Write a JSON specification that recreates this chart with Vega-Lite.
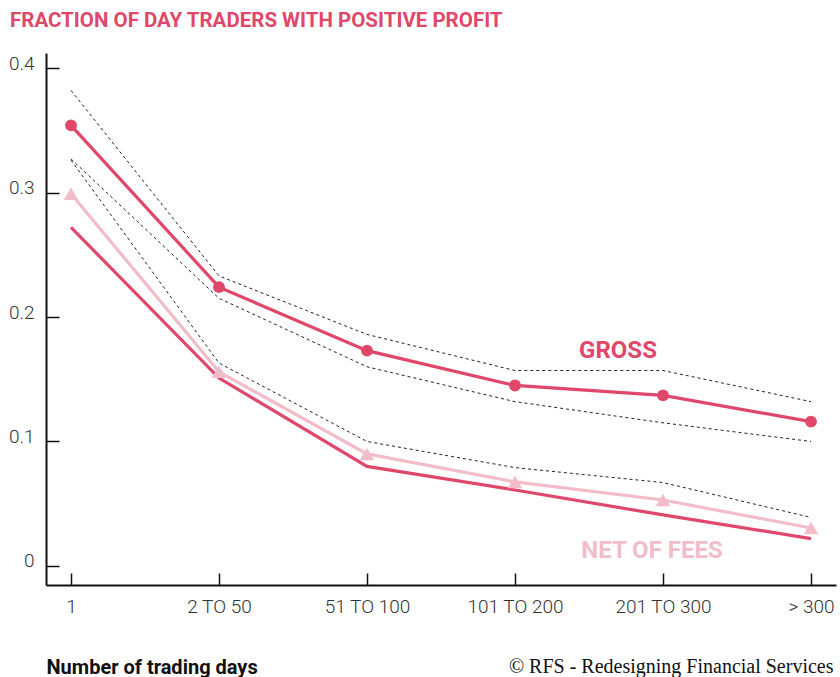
{
  "$schema": "https://vega.github.io/schema/vega-lite/v6.json",
  "width": 790,
  "height": 532,
  "autosize": {"type": "none"},
  "padding": {"left": 46, "top": 53, "right": 4, "bottom": 92},
  "background": "white",
  "title": {
    "text": "FRACTION OF DAY TRADERS WITH POSITIVE PROFIT",
    "anchor": "start",
    "frame": "group",
    "dx": -36,
    "offset": 6,
    "baseline": "alphabetic",
    "font": "Roboto",
    "fontSize": 20.5,
    "fontWeight": "bold",
    "color": "#e0476a"
  },
  "config": {"view": {"stroke": null}, "axis": {"grid": false}},
  "datasets": {
    "main": [
      {"days": "1", "series": "Gross", "value": 0.354},
      {"days": "2 TO 50", "series": "Gross", "value": 0.224},
      {"days": "51 TO 100", "series": "Gross", "value": 0.173},
      {"days": "101 TO 200", "series": "Gross", "value": 0.145},
      {"days": "201 TO 300", "series": "Gross", "value": 0.137},
      {"days": "> 300", "series": "Gross", "value": 0.116},
      {"days": "1", "series": "Gross upper", "value": 0.382},
      {"days": "2 TO 50", "series": "Gross upper", "value": 0.233},
      {"days": "51 TO 100", "series": "Gross upper", "value": 0.186},
      {"days": "101 TO 200", "series": "Gross upper", "value": 0.157},
      {"days": "201 TO 300", "series": "Gross upper", "value": 0.157},
      {"days": "> 300", "series": "Gross upper", "value": 0.132},
      {"days": "1", "series": "Gross lower", "value": 0.327},
      {"days": "2 TO 50", "series": "Gross lower", "value": 0.215},
      {"days": "51 TO 100", "series": "Gross lower", "value": 0.160},
      {"days": "101 TO 200", "series": "Gross lower", "value": 0.132},
      {"days": "201 TO 300", "series": "Gross lower", "value": 0.115},
      {"days": "> 300", "series": "Gross lower", "value": 0.100},
      {"days": "1", "series": "Net", "value": 0.299},
      {"days": "2 TO 50", "series": "Net", "value": 0.156},
      {"days": "51 TO 100", "series": "Net", "value": 0.090},
      {"days": "101 TO 200", "series": "Net", "value": 0.0675},
      {"days": "201 TO 300", "series": "Net", "value": 0.053},
      {"days": "> 300", "series": "Net", "value": 0.0305},
      {"days": "1", "series": "Net upper", "value": 0.326},
      {"days": "2 TO 50", "series": "Net upper", "value": 0.163},
      {"days": "51 TO 100", "series": "Net upper", "value": 0.100},
      {"days": "101 TO 200", "series": "Net upper", "value": 0.079},
      {"days": "201 TO 300", "series": "Net upper", "value": 0.067},
      {"days": "> 300", "series": "Net upper", "value": 0.039},
      {"days": "1", "series": "Net lower", "value": 0.272},
      {"days": "2 TO 50", "series": "Net lower", "value": 0.151},
      {"days": "51 TO 100", "series": "Net lower", "value": 0.080},
      {"days": "101 TO 200", "series": "Net lower", "value": 0.061},
      {"days": "201 TO 300", "series": "Net lower", "value": 0.041},
      {"days": "> 300", "series": "Net lower", "value": 0.022}
    ],
    "labels": [
      {"label": "GROSS", "days": "101 TO 200", "value": 0.167},
      {"label": "NET OF FEES", "days": "201 TO 300", "value": 0.0064}
    ]
  },
  "encoding": {
    "x": {
      "field": "days",
      "type": "ordinal",
      "sort": ["1", "2 TO 50", "51 TO 100", "101 TO 200", "201 TO 300", "> 300"],
      "scale": {"type": "point", "padding": 0.169},
      "axis": {
        "title": "Number of trading days",
        "titleX": 0,
        "titleY": 88,
        "titleAlign": "left",
        "titleAnchor": null,
        "titleBaseline": "alphabetic",
        "titleFont": "Roboto",
        "titleFontSize": 20,
        "titleFontWeight": "bold",
        "titleColor": "#111111",
        "labelAngle": 0,
        "labelFont": "Roboto",
        "labelFontWeight": 300,
        "labelFontSize": 19,
        "labelColor": "#333333",
        "labelPadding": 24,
        "tickSize": -12,
        "tickColor": "#111111",
        "tickWidth": 1.5,
        "domainColor": "#111111",
        "domainWidth": 2
      }
    },
    "y": {
      "field": "value",
      "type": "quantitative",
      "scale": {"domain": [-0.0153, 0.4121], "nice": false, "zero": false},
      "axis": {
        "values": [0, 0.1, 0.2, 0.3, 0.4],
        "format": ".1~f",
        "title": "© RFS - Redesigning Financial Services",
        "titleAngle": 0,
        "titleX": 787,
        "titleY": 619,
        "titleAlign": "right",
        "titleAnchor": null,
        "titleBaseline": "alphabetic",
        "titleFont": "Liberation Serif",
        "titleFontSize": 20,
        "titleFontWeight": "normal",
        "titleColor": "#111111",
        "labelFont": "Roboto",
        "labelFontWeight": 300,
        "labelFontSize": 19,
        "labelColor": "#333333",
        "labelPadding": 25,
        "labelOffset": -5,
        "tickSize": -13,
        "tickColor": "#111111",
        "tickWidth": 1.5,
        "domainColor": "#111111",
        "domainWidth": 2
      }
    }
  },
  "layer": [
    {
      "data": {"name": "main"},
      "transform": [{"filter": {"field": "series", "oneOf": ["Gross upper", "Gross lower", "Net upper"]}}],
      "mark": {"type": "line", "color": "#222222", "strokeWidth": 1, "strokeDash": [3, 3]},
      "encoding": {"detail": {"field": "series"}}
    },
    {
      "data": {"name": "main"},
      "transform": [{"filter": {"field": "series", "equal": "Net lower"}}],
      "mark": {"type": "line", "color": "#e0476a", "strokeWidth": 3.2}
    },
    {
      "data": {"name": "main"},
      "transform": [{"filter": {"field": "series", "equal": "Net"}}],
      "mark": {
        "type": "line",
        "color": "#f2bcc8",
        "strokeWidth": 3.2,
        "point": {"filled": true, "shape": "triangle-up", "size": 210, "color": "#f2bcc8", "opacity": 1}
      }
    },
    {
      "data": {"name": "main"},
      "transform": [{"filter": {"field": "series", "equal": "Gross"}}],
      "mark": {
        "type": "line",
        "color": "#e0476a",
        "strokeWidth": 3.2,
        "point": {"filled": true, "shape": "circle", "size": 140, "color": "#e0476a", "opacity": 1}
      }
    },
    {
      "data": {"name": "labels"},
      "transform": [{"filter": {"field": "label", "equal": "GROSS"}}],
      "mark": {"type": "text", "dx": 103, "align": "center", "baseline": "alphabetic", "font": "Roboto", "fontWeight": "bold", "fontSize": 24, "color": "#e0476a"},
      "encoding": {"text": {"field": "label"}}
    },
    {
      "data": {"name": "labels"},
      "transform": [{"filter": {"field": "label", "equal": "NET OF FEES"}}],
      "mark": {"type": "text", "dx": -11, "align": "center", "baseline": "alphabetic", "font": "Roboto", "fontWeight": "bold", "fontSize": 24, "color": "#f2bcc8"},
      "encoding": {"text": {"field": "label"}}
    }
  ]
}
